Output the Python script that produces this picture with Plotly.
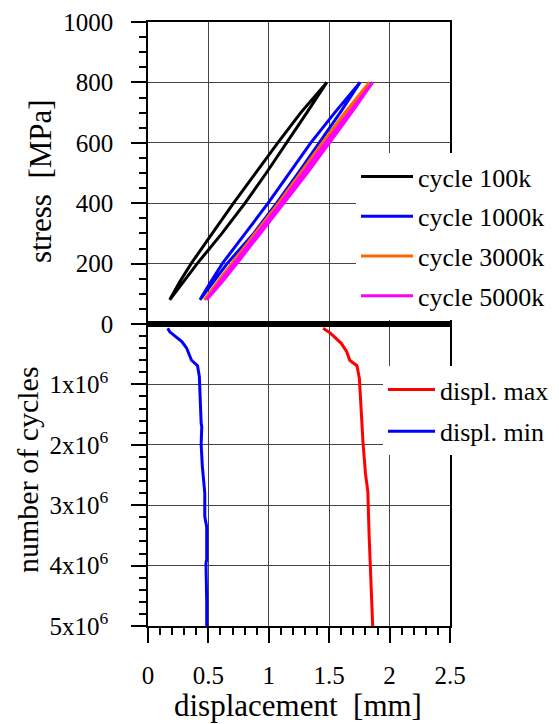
import plotly.graph_objects as go

# ---------------- data ----------------
# hysteresis loops: displacement [mm] vs stress [MPa] (loading branch then unloading branch)
loop_names = ["cycle 100k", "cycle 1000k", "cycle 3000k", "cycle 5000k"]
loop_colors = ["#000000", "#0000ff", "#ff6600", "#ff00ff"]

stress_loop = [80, 140, 200, 300, 400, 500, 600, 700, 800,
               700, 600, 500, 400, 300, 200, 140, 80]

disp_100k = [0.18, 0.29, 0.407, 0.612, 0.803, 0.979, 1.149, 1.315, 1.48,
             1.265, 1.074, 0.889, 0.708, 0.532, 0.357, 0.263, 0.18]

disp_1000k = [0.43, 0.545, 0.655, 0.875, 1.065, 1.243, 1.417, 1.591, 1.755,
              1.546, 1.347, 1.168, 0.994, 0.805, 0.615, 0.52, 0.43]

disp_3000k = [0.466, 0.595, 0.715, 0.91, 1.105, 1.29, 1.475, 1.655, 1.832,
              1.63, 1.443, 1.26, 1.08, 0.885, 0.69, 0.578, 0.466]

disp_5000k = [0.486, 0.615, 0.735, 0.93, 1.128, 1.318, 1.502, 1.685, 1.86,
              1.665, 1.47, 1.285, 1.10, 0.905, 0.71, 0.597, 0.486]

# displacement evolution vs number of cycles
cycles_max = [0.07e6, 0.15e6, 0.32e6, 0.46e6, 0.60e6, 0.69e6, 0.90e6, 1.26e6, 1.70e6,
              1.97e6, 2.47e6, 2.78e6, 3.47e6, 4.02e6, 5.0e6]
displ_max = [1.45, 1.51, 1.60, 1.645, 1.67, 1.73, 1.75, 1.76, 1.77,
             1.78, 1.80, 1.82, 1.83, 1.84, 1.86]

cycles_min = [0.07e6, 0.13e6, 0.29e6, 0.40e6, 0.60e6, 0.69e6, 0.87e6, 1.26e6, 1.64e6,
              1.70e6, 2.0e6, 2.36e6, 2.80e6, 3.19e6, 3.36e6, 3.90e6, 3.96e6, 4.6e6, 5.0e6]
displ_min = [0.163, 0.18, 0.28, 0.32, 0.36, 0.41, 0.425, 0.43, 0.44,
             0.445, 0.44, 0.45, 0.47, 0.47, 0.486, 0.486, 0.48, 0.486, 0.486]

zero_x = [0, 2.5]
zero_y = [0, 0]

x_ticks = [0, 0.5, 1, 1.5, 2, 2.5]
x_ticktext = ["0", "0.5", "1", "1.5", "2", "2.5"]
stress_ticks = [0, 200, 400, 600, 800, 1000]
stress_ticktext = ["0", "200", "400", "600", "800", "1000"]
cycle_ticks = [0, 1e6, 2e6, 3e6, 4e6, 5e6]
cycle_ticktext = ["", "1x10<sup>6</sup>", "2x10<sup>6</sup>", "3x10<sup>6</sup>",
                  "4x10<sup>6</sup>", "5x10<sup>6</sup>"]

# ---------------- figure ----------------
FONT = "Liberation Serif"
GRID = "#444444"

fig = go.Figure()

loops = [disp_100k, disp_1000k, disp_3000k, disp_5000k]
for i, (dx, name, col) in enumerate(zip(loops, loop_names, loop_colors)):
    fig.add_trace(go.Scatter(x=dx, y=stress_loop, mode="lines", name=name,
                             line=dict(color=col, width=3),
                             xaxis="x", yaxis="y", legend="legend",
                             legendgroup=f"g{i}"))

fig.add_trace(go.Scatter(x=displ_max, y=cycles_max, mode="lines", name="displ. max",
                         line=dict(color="#ff0000", width=3),
                         xaxis="x2", yaxis="y2", legend="legend2", legendgroup="m1"))
fig.add_trace(go.Scatter(x=displ_min, y=cycles_min, mode="lines", name="displ. min",
                         line=dict(color="#0000ff", width=3),
                         xaxis="x2", yaxis="y2", legend="legend2", legendgroup="m2"))

# thick zero line, split over both panels
fig.add_trace(go.Scatter(x=zero_x, y=zero_y, mode="lines", showlegend=False,
                         line=dict(color="black", width=6), xaxis="x", yaxis="y",
                         hoverinfo="skip"))
fig.add_trace(go.Scatter(x=zero_x, y=zero_y, mode="lines", showlegend=False,
                         line=dict(color="black", width=6), xaxis="x2", yaxis="y2",
                         hoverinfo="skip"))

tickfont = dict(family=FONT, size=25, color="black")

common_axis = dict(showline=True, linecolor="black", linewidth=1.5, mirror=True,
                   showgrid=True, gridcolor=GRID, gridwidth=1, zeroline=False,
                   tickfont=tickfont, tickcolor="black", tickwidth=1.5)

fig.update_layout(
    width=559, height=724,
    margin=dict(l=148, r=109, t=22, b=98, autoexpand=False),
    paper_bgcolor="white", plot_bgcolor="white",
    font=dict(family=FONT, color="black"),
    xaxis=dict(domain=[0, 1], anchor="y", range=[0, 2.5], tickvals=x_ticks,
               showticklabels=False, ticks="", **common_axis),
    yaxis=dict(domain=[0.5, 1], anchor="x", range=[0, 1000], tickvals=stress_ticks,
               ticktext=stress_ticktext, ticks="outside", ticklen=15,
               ticklabelstandoff=13,
               minor=dict(dtick=50, ticks="outside", ticklen=7, tickwidth=1.5,
                          tickcolor="black", showgrid=False),
               **common_axis),
    xaxis2=dict(domain=[0, 1], anchor="y2", range=[0, 2.5], tickvals=x_ticks,
                ticktext=x_ticktext, ticks="outside", ticklen=15,
                ticklabelstandoff=11,
                minor=dict(dtick=0.1, ticks="outside", ticklen=7, tickwidth=1.5,
                           tickcolor="black", showgrid=False),
                **common_axis),
    yaxis2=dict(domain=[0, 0.5], anchor="x2", range=[5e6, 0], tickvals=cycle_ticks,
                ticktext=cycle_ticktext, ticks="outside", ticklen=15,
                ticklabelstandoff=18,
                minor=dict(dtick=2e5, ticks="outside", ticklen=7, tickwidth=1.5,
                           tickcolor="black", showgrid=False),
                **common_axis),
    legend=dict(x=(356 - 148) / 302, y=(626 - 153) / 604, xanchor="left", yanchor="top",
                bgcolor="white", borderwidth=0,
                font=dict(family=FONT, size=26, color="black"),
                itemwidth=52, tracegroupgap=3),
    legend2=dict(x=(383 - 148) / 302, y=(626 - 366) / 604, xanchor="left", yanchor="top",
                 bgcolor="white", borderwidth=0,
                 font=dict(family=FONT, size=26, color="black"),
                 itemwidth=47, tracegroupgap=5),
    annotations=[
        dict(text="stress  [MPa]", textangle=-90, xref="paper", yref="paper",
             x=(41 - 148) / 302, y=(626 - 181) / 604, xanchor="center", yanchor="middle",
             showarrow=False, font=dict(family=FONT, size=31, color="black")),
        dict(text="number of cycles", textangle=-90, xref="paper", yref="paper",
             x=(27 - 148) / 302, y=(626 - 470) / 604, xanchor="center", yanchor="middle",
             showarrow=False, font=dict(family=FONT, size=30, color="black")),
        dict(text="displacement  [mm]", xref="paper", yref="paper",
             x=(298 - 148) / 302, y=(626 - 705) / 604, xanchor="center", yanchor="middle",
             showarrow=False, font=dict(family=FONT, size=31, color="black")),
    ],
)

fig.write_html("out.html")
